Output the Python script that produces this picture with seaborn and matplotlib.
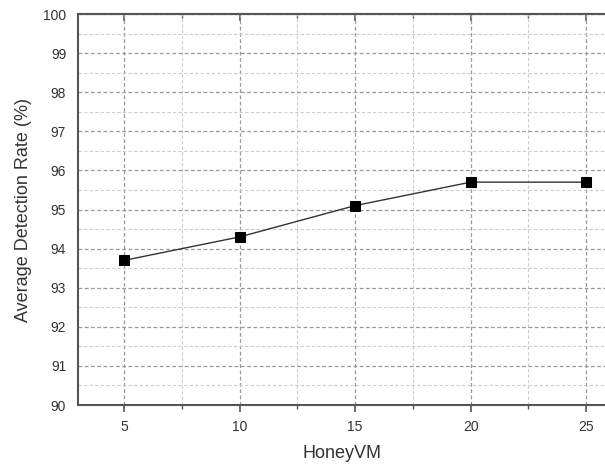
import matplotlib
matplotlib.use("Agg")
import matplotlib.pyplot as plt
import seaborn as sns
import pandas as pd
from matplotlib.ticker import MultipleLocator, NullFormatter

honeyvm = [5, 10, 15, 20, 25]
detection_rate = [93.7, 94.3, 95.1, 95.7, 95.7]

df = pd.DataFrame({"HoneyVM": honeyvm, "rate": detection_rate})

sns.set_style("white")
plt.rcParams['font.family'] = ['Liberation Sans', 'DejaVu Sans']

fig = plt.figure(figsize=(6.05, 4.68), dpi=100)
ax = fig.add_axes([0.129, 0.1346, 0.871, 0.8354])

sns.lineplot(data=df, x="HoneyVM", y="rate", marker="s", markersize=6.5,
             color="#333333", linewidth=1.0, markeredgecolor="black",
             markerfacecolor="black", ax=ax)

ax.set_xlim(3, 25.82)
ax.set_ylim(90, 100)
ax.xaxis.set_major_locator(MultipleLocator(5))
ax.xaxis.set_minor_locator(MultipleLocator(2.5))
ax.yaxis.set_major_locator(MultipleLocator(1))
ax.yaxis.set_minor_locator(MultipleLocator(0.5))

ax.grid(which="major", linestyle=(0, (3, 2)), color="#999999", linewidth=0.9)
ax.grid(which="minor", linestyle=(0, (3, 2)), color="#cccccc", linewidth=0.8)
ax.set_axisbelow(True)

for side in ["left", "bottom", "top"]:
    ax.spines[side].set_color("#555555")
    ax.spines[side].set_linewidth(1.5)
ax.spines["right"].set_visible(False)

ax.tick_params(axis="both", which="major", direction="out", length=5, width=1.2,
               color="#555555", labelsize=10, labelcolor="#333333")
ax.tick_params(axis="both", which="minor", direction="out", length=3, width=1.0,
               color="#555555")
ax.tick_params(axis="x", which="both", top=False, bottom=True)
ax.tick_params(axis="x", which="major", pad=6)

# top axis with inward ticks
sec = ax.secondary_xaxis("top")
sec.xaxis.set_major_locator(MultipleLocator(5))
sec.xaxis.set_minor_locator(MultipleLocator(2.5))
sec.xaxis.set_major_formatter(NullFormatter())
sec.tick_params(which="major", direction="in", length=5, width=1.2, color="#555555")
sec.tick_params(which="minor", direction="in", length=3, width=1.0, color="#555555")
sec.spines["top"].set_color("#555555")
sec.spines["top"].set_linewidth(1.5)

ax.set_xlabel("HoneyVM", fontsize=13, color="#333333", labelpad=8)
ax.set_ylabel("Average Detection Rate (%)", fontsize=13, color="#333333", labelpad=8)

fig.savefig("out.png", dpi=100)
